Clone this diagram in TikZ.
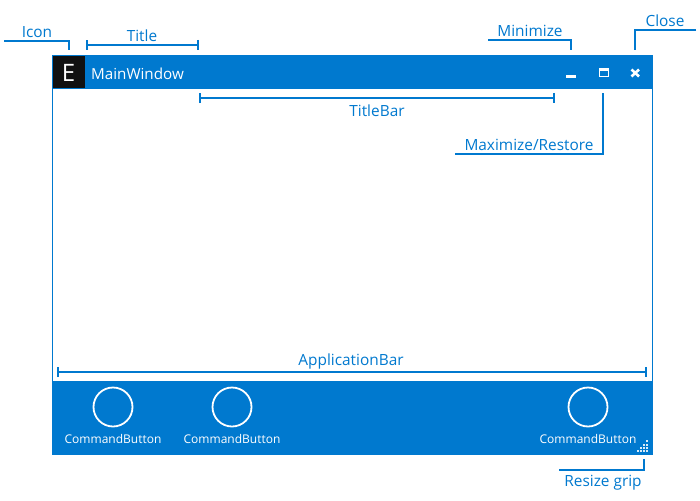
\documentclass[tikz,border=0pt]{standalone}
\usepackage{fontspec}
\setmainfont{Open Sans}
\usetikzlibrary{arrows.meta}
\definecolor{accent}{HTML}{0079CF}
\definecolor{iconbg}{HTML}{111111}
\tikzset{
  callout/.style={draw=accent,line width=2pt},
  bracket/.style={callout,{Bar[width=10pt,length=2pt]}-{Bar[width=10pt,length=2pt]}},
  lbl/.style={text=accent,font=\fontsize{15.4}{18}\selectfont,inner sep=0pt},
  cmdlbl/.style={text=white,font=\fontsize{12}{14}\selectfont,inner sep=0pt},
  cmdbtn/.style={draw=white,line width=1.8pt,circle,minimum size=39pt,inner sep=0pt},
}
\begin{document}
\begin{tikzpicture}[x=1pt,y=-1pt]
\useasboundingbox (0,0) rectangle (700,500);
\fill[white] (0,0) rectangle (700,500);

% Window
\draw[accent,line width=1pt] (52.5,55.5) rectangle (652.5,454.5);
\fill[accent] (52,55) rectangle (653,89);
\fill[accent] (52,381) rectangle (653,455);
\fill[iconbg] (53,56) rectangle (85,88);
\node[text=white,font=\fontsize{24}{28}\selectfont,inner sep=0pt] (icon) at (68.5,72.5) {E};
\node[text=white,font=\fontsize{15.2}{18}\selectfont,inner sep=0pt,anchor=west] (main) at (91,74) {MainWindow};

% Window buttons
\fill[white] (566,75) rectangle (576,78);
\draw[white,line width=1pt] (599,68.5) rectangle (608,77);
\fill[white] (598.5,68) rectangle (608.5,71);
\draw[white,line width=2.6pt] (631.5,69.5) -- (639,76.5) (639,69.5) -- (631.5,76.5);

% Command buttons
\foreach \name/\cx in {first/113,second/232,third/588} {
  \node[cmdbtn] (\name) at (\cx,407) {};
  \node[cmdlbl] (\name lbl) at (\cx,439) {CommandButton};
}

% Resize grip
\foreach \gx/\gy in {646/442,646/445.5,643/445.5,646/449,643/449,640/449,646/452,643/452,640/452,637/452}
  \fill[white,opacity=0.85] (\gx,\gy) rectangle +(2,-2);

% Ends of the callouts
\coordinate (iconS) at (4,41);
\coordinate (iconE) at (69,50);
\coordinate (titleS) at (86,45);
\coordinate (titleE) at (199,45);
\coordinate (barS) at (199,98);
\coordinate (barE) at (555,98);
\coordinate (minS) at (488,40);
\coordinate (minE) at (571,50);
\coordinate (closeS) at (696,30);
\coordinate (closeE) at (635,50);
\coordinate (maxS) at (455,154);
\coordinate (maxE) at (603,93);
\coordinate (appS) at (57,372);
\coordinate (appE) at (647,372);
\coordinate (gripS) at (559,470);
\coordinate (gripE) at (644,459);

% Callouts
\draw[callout] (iconS) -| (iconE);
\draw[bracket] (titleS) -- (titleE);
\draw[bracket] (barS) -- (barE);
\draw[callout] (minS) -| (minE);
\draw[callout] (closeS) -| (closeE);
\draw[callout] (maxS) -| (maxE);
\draw[bracket] (appS) -- (appE);
\draw[callout] (gripS) -| (gripE);

% Labels
\node[lbl] (iconlbl) at (37,32) {Icon};
\node[lbl] (titlelbl) at (142,36) {Title};
\node[lbl] (barlbl) at (377,111) {TitleBar};
\node[lbl] (minlbl) at (530,31) {Minimize};
\node[lbl] (closelbl) at (665,21) {Close};
\node[lbl] (maxlbl) at (529,145) {Maximize/Restore};
\node[lbl] (applbl) at (351,361) {ApplicationBar};
\node[lbl] (griplbl) at (603,483) {Resize grip};
\end{tikzpicture}
\end{document}
